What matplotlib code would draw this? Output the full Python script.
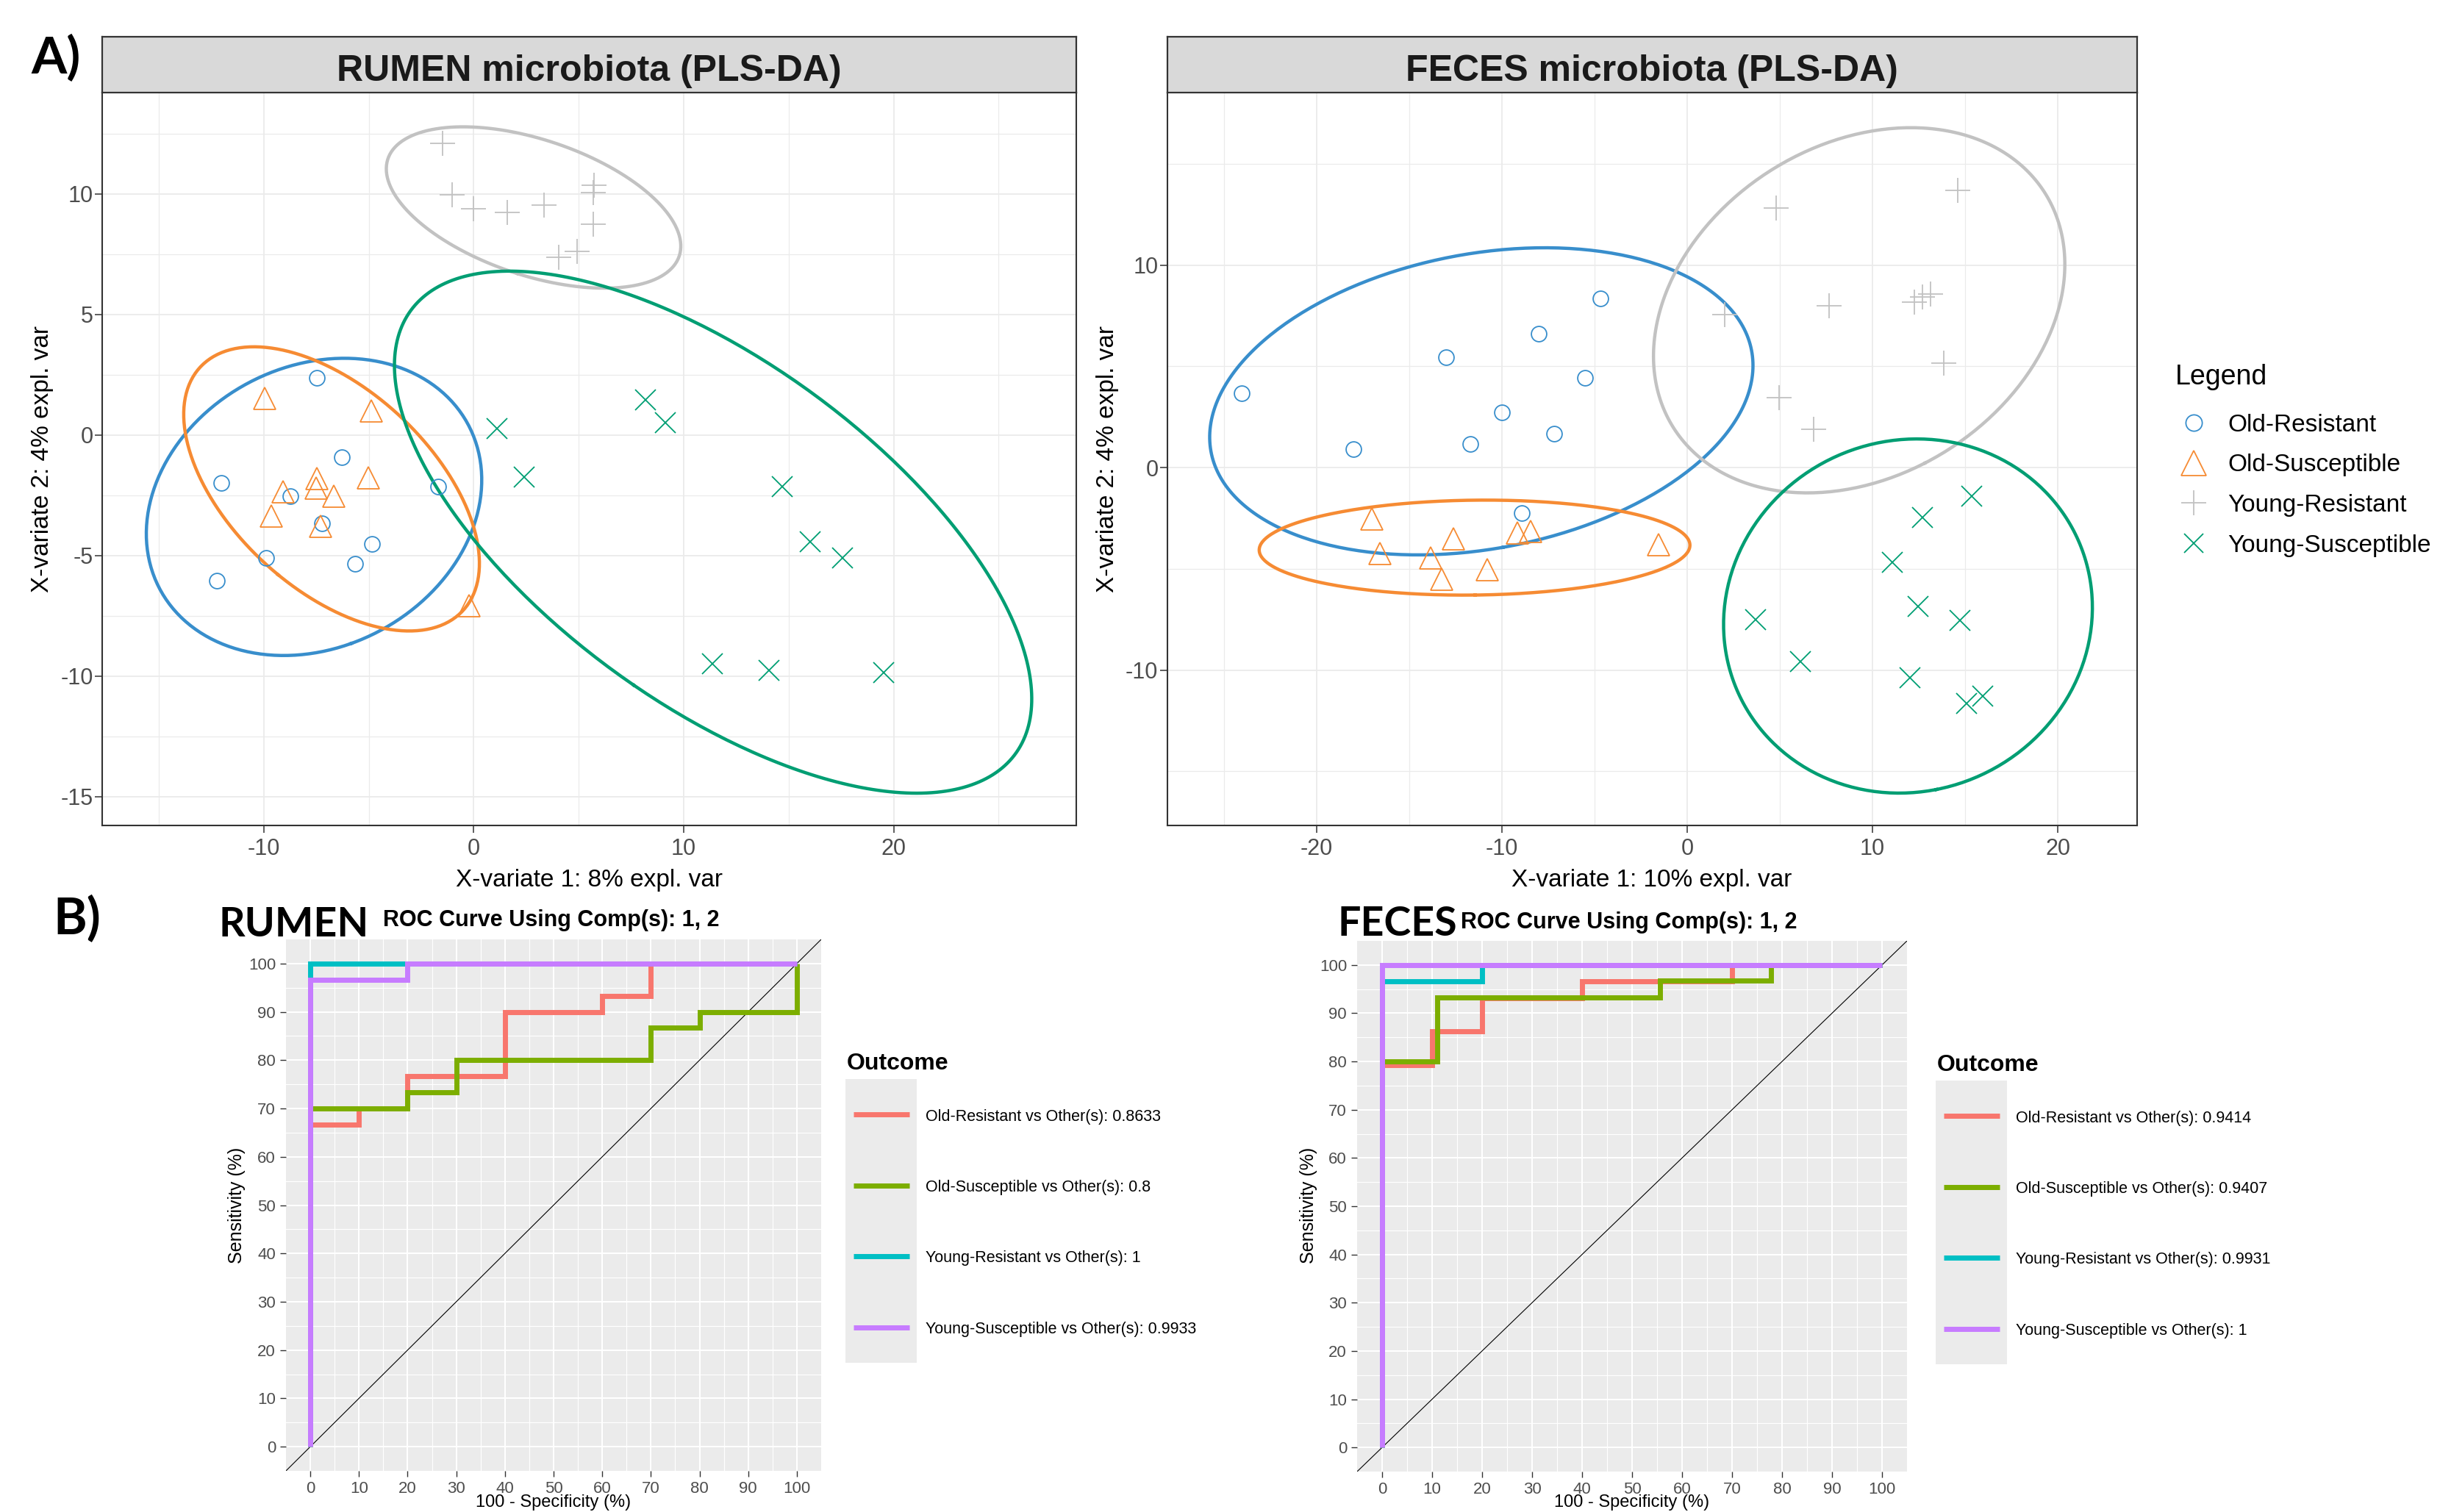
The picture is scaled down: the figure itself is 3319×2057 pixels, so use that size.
import numpy as np
import matplotlib
matplotlib.use('Agg')
import matplotlib.pyplot as plt
from matplotlib.patches import Rectangle

W, H = 3319, 2057
DPI = 100
plt.rcParams['font.family'] = ['Liberation Sans', 'DejaVu Sans']
plt.rcParams['axes.unicode_minus'] = False

groups = ['Old-Resistant', 'Old-Susceptible', 'Young-Resistant', 'Young-Susceptible']
group_colors = ['#388ECC', '#F68B33', '#C2C2C2', '#009E73']
group_markers = ['o', '^', '+', 'x']
marker_sizes = [15, 22, 24, 20]

# --- RUMEN PLS-DA scores (X-variate 1, X-variate 2) ---
rumen_or_x = [-7.49, -12.01, -6.30, -8.75, -1.68, -7.23, -4.85, -9.90, -5.64, -12.24]
rumen_or_y = [2.37, -1.98, -0.91, -2.53, -2.13, -3.68, -4.52, -5.09, -5.33, -6.05]
rumen_os_x = [-9.97, -4.88, -5.02, -7.46, -7.50, -9.08, -6.67, -9.64, -7.29, -0.23]
rumen_os_y = [1.53, 1.00, -1.77, -1.82, -2.20, -2.37, -2.53, -3.37, -3.78, -7.07]
rumen_yr_x = [-1.49, -1.02, 0.00, 1.58, 3.33, 5.74, 5.68, 5.68, 4.92, 4.06]
rumen_yr_y = [12.11, 9.96, 9.37, 9.22, 9.53, 10.37, 10.06, 8.75, 7.60, 7.38]
rumen_ys_x = [1.09, 8.18, 9.11, 2.41, 14.69, 16.01, 17.56, 11.35, 14.06, 19.54]
rumen_ys_y = [0.26, 1.46, 0.50, -1.74, -2.13, -4.44, -5.11, -9.49, -9.77, -9.87]

# --- FECES PLS-DA scores ---
feces_or_x = [-24.05, -18.04, -13.01, -11.71, -10.02, -8.02, -7.17, -5.52, -4.68, -8.95]
feces_or_y = [3.67, 0.91, 5.46, 1.17, 2.73, 6.60, 1.68, 4.44, 8.34, -2.25]
feces_os_x = [-17.02, -16.61, -13.85, -13.27, -12.61, -10.78, -9.18, -8.46, -1.56]
feces_os_y = [-2.53, -4.24, -4.47, -5.52, -3.53, -5.04, -3.24, -3.16, -3.81]
feces_yr_x = [4.81, 14.61, 2.00, 7.66, 12.25, 12.69, 13.14, 13.85, 4.94, 6.82]
feces_yr_y = [12.83, 13.68, 7.57, 7.99, 8.19, 8.42, 8.56, 5.15, 3.44, 1.88]
feces_ys_x = [15.37, 12.69, 11.05, 12.47, 14.70, 3.70, 6.10, 12.03, 15.06, 15.95]
feces_ys_y = [-1.39, -2.45, -4.67, -6.86, -7.54, -7.51, -9.56, -10.36, -11.64, -11.29]

# --- ROC curves: x = 100 - specificity, y = sensitivity (%) ---
roc_labels = ['Old-Resistant vs Other(s)', 'Old-Susceptible vs Other(s)',
              'Young-Resistant vs Other(s)', 'Young-Susceptible vs Other(s)']
roc_colors = ['#F8766D', '#7CAE00', '#00BFC4', '#C77CFF']
rumen_auc = ['0.8633', '0.8', '1', '0.9933']
feces_auc = ['0.9414', '0.9407', '0.9931', '1']

rumen_or_fpr = [0, 0, 10, 10, 20, 20, 40, 40, 60, 60, 70, 70, 100]
rumen_or_tpr = [0, 66.7, 66.7, 70, 70, 76.7, 76.7, 90, 90, 93.3, 93.3, 100, 100]
rumen_os_fpr = [0, 0, 20, 20, 30, 30, 70, 70, 80, 80, 100, 100]
rumen_os_tpr = [0, 70, 70, 73.3, 73.3, 80, 80, 86.7, 86.7, 90, 90, 100]
rumen_yr_fpr = [0, 0, 100]
rumen_yr_tpr = [0, 100, 100]
rumen_ys_fpr = [0, 0, 20, 20, 100]
rumen_ys_tpr = [0, 96.7, 96.7, 100, 100]

feces_or_fpr = [0, 0, 10, 10, 20, 20, 40, 40, 70, 70, 100]
feces_or_tpr = [0, 79.3, 79.3, 86.2, 86.2, 93.1, 93.1, 96.6, 96.6, 100, 100]
feces_os_fpr = [0, 0, 11.1, 11.1, 55.6, 55.6, 77.8, 77.8, 100]
feces_os_tpr = [0, 80, 80, 93.3, 93.3, 96.7, 96.7, 100, 100]
feces_yr_fpr = [0, 0, 20, 20, 100]
feces_yr_tpr = [0, 96.6, 96.6, 100, 100]
feces_ys_fpr = [0, 0, 100]
feces_ys_tpr = [0, 100, 100]


fig = plt.figure(figsize=(W / DPI, H / DPI), dpi=DPI)


def px_axes(x0, y0, x1, y1):
    return fig.add_axes([x0 / W, 1 - y1 / H, (x1 - x0) / W, (y1 - y0) / H])


def conf_ellipse(x, y, level=0.95, n=300):
    pts = np.column_stack([x, y])
    c = pts.mean(axis=0)
    vals, vecs = np.linalg.eigh(np.cov(pts.T))
    r = np.sqrt(-2 * np.log(1 - level))
    t = np.linspace(0, 2 * np.pi, n)
    e = vecs @ (np.sqrt(vals)[:, None] * np.vstack([np.cos(t), np.sin(t)])) * r
    return c[0] + e[0], c[1] + e[1]


def pls_panel(x0, x1, xs, ys, xlim, ylim, xmaj, xmin, ymaj, ymin):
    strip = px_axes(x0, 50, x1, 126)
    strip.set_facecolor('#D9D9D9')
    strip.set_xticks([])
    strip.set_yticks([])
    for s in strip.spines.values():
        s.set_color('#333333')
        s.set_linewidth(1.6)

    ax = px_axes(x0, 126, x1, 1123)
    for gx, gy, col, mk, ms in zip(xs, ys, group_colors, group_markers, marker_sizes):
        ax.plot(gx, gy, ls='none', marker=mk, ms=ms, mfc='none', mec=col, mew=1.3, zorder=3)
        ex, ey = conf_ellipse(gx, gy)
        ax.plot(ex, ey, color=col, lw=3.2, zorder=2)
    ax.set_xlim(*xlim)
    ax.set_ylim(*ylim)
    ax.set_xticks(xmaj)
    ax.set_xticks(xmin, minor=True)
    ax.set_yticks(ymaj)
    ax.set_yticks(ymin, minor=True)
    ax.grid(which='major', color='#EBEBEB', lw=1.3)
    ax.grid(which='minor', color='#EBEBEB', lw=0.9)
    ax.set_axisbelow(True)
    ax.tick_params(which='major', length=7, width=1.1, color='#333333',
                   labelsize=22, labelcolor='#4D4D4D')
    ax.tick_params(axis='x', pad=5)
    ax.tick_params(axis='y', pad=2)
    ax.tick_params(which='minor', length=0)
    for s in ax.spines.values():
        s.set_color('#333333')
        s.set_linewidth(1.5)
    return ax


pls_panel(139, 1464,
          [rumen_or_x, rumen_os_x, rumen_yr_x, rumen_ys_x],
          [rumen_or_y, rumen_os_y, rumen_yr_y, rumen_ys_y],
          (-17.7, 28.7), (-16.2, 14.2),
          [-10, 0, 10, 20], [-15, -5, 5, 15, 25],
          [-15, -10, -5, 0, 5, 10], [-12.5, -7.5, -2.5, 2.5, 7.5, 12.5])

pls_panel(1588, 2907,
          [feces_or_x, feces_os_x, feces_yr_x, feces_ys_x],
          [feces_or_y, feces_os_y, feces_yr_y, feces_ys_y],
          (-28.06, 24.28), (-17.67, 18.52),
          [-20, -10, 0, 10, 20], [-25, -15, -5, 5, 15],
          [-10, 0, 10], [-15, -5, 5, 15])


def roc_panel(x0, y0, x1, y1, fprs, tprs):
    ax = px_axes(x0, y0, x1, y1)
    ax.set_facecolor('#EBEBEB')
    ax.plot([-5, 105], [-5, 105], color='black', lw=0.8, zorder=2)
    for fx, ty, col in zip(fprs, tprs, roc_colors):
        ax.plot(fx, ty, color=col, lw=5, solid_capstyle='butt',
                solid_joinstyle='miter', zorder=3)
    ax.set_xlim(-5, 105)
    ax.set_ylim(-5, 105)
    ticks = np.arange(0, 101, 10)
    ax.set_xticks(ticks)
    ax.set_yticks(ticks)
    ax.set_xticks(ticks[:-1] + 5, minor=True)
    ax.set_yticks(ticks[:-1] + 5, minor=True)
    ax.grid(which='major', color='white', lw=1.5)
    ax.grid(which='minor', color='white', lw=0.8)
    ax.set_axisbelow(True)
    ax.tick_params(which='major', length=6, width=1.0, color='#333333',
                   labelsize=16, labelcolor='#4D4D4D', pad=4)
    ax.tick_params(which='minor', length=0)
    for s in ax.spines.values():
        s.set_visible(False)
    return ax


roc_panel(389, 1278, 1117, 2001,
          [rumen_or_fpr, rumen_os_fpr, rumen_yr_fpr, rumen_ys_fpr],
          [rumen_or_tpr, rumen_os_tpr, rumen_yr_tpr, rumen_ys_tpr])
roc_panel(1846, 1280, 2594, 2002,
          [feces_or_fpr, feces_os_fpr, feces_yr_fpr, feces_ys_fpr],
          [feces_or_tpr, feces_os_tpr, feces_yr_tpr, feces_ys_tpr])

# overlay in pixel coordinates for titles, labels and legends
ov = fig.add_axes([0, 0, 1, 1])
ov.set_xlim(0, W)
ov.set_ylim(H, 0)
ov.axis('off')
ov.patch.set_alpha(0)

big = dict(fontfamily=['Lato', 'DejaVu Sans'], fontweight='bold', va='baseline')
ov.text(42, 100, 'A)', fontsize=50, **big)
ov.text(72, 1271, 'B)', fontsize=50, **big)
ov.text(297, 1274, 'RUMEN', fontsize=40, **big)
ov.text(1820, 1273, 'FECES', fontsize=40, **big)

ov.text(801, 110, 'RUMEN microbiota (PLS-DA)', fontsize=36, fontweight='bold',
        ha='center', va='baseline', color='#1A1A1A')
ov.text(2247, 110, 'FECES microbiota (PLS-DA)', fontsize=36, fontweight='bold',
        ha='center', va='baseline', color='#1A1A1A')
ov.text(801, 1206, 'X-variate 1: 8% expl. var', fontsize=24, ha='center', va='baseline')
ov.text(2247, 1206, 'X-variate 1: 10% expl. var', fontsize=24, ha='center', va='baseline')
ov.text(58, 624, 'X-variate 2: 4% expl. var', fontsize=24, rotation=90,
        ha='center', va='center')
ov.text(1507, 624, 'X-variate 2: 4% expl. var', fontsize=24, rotation=90,
        ha='center', va='center')

# PLS-DA legend
ov.text(2959, 523, 'Legend', fontsize=27, va='baseline')
legend_ms = [16, 24, 25, 19]
for i, (g, col, mk, ms) in enumerate(zip(groups, group_colors, group_markers, legend_ms)):
    yb = 587 + i * 54.5
    ov.plot(2984, yb - 12, ls='none', marker=mk, ms=ms, mfc='none', mec=col, mew=1.3)
    ov.text(3030, yb, g, fontsize=24, va='baseline')

# ROC titles, axis labels and legends
for x_title, y_title, x_roc, x_mid, x_ylab, x_leg, y_leg, aucs in [
        (521, 1260, 297, 753, 322, 1150, 1455, rumen_auc),
        (1987, 1263, 1820, 2220, 1780, 2633, 1457, feces_auc)]:
    ov.text(x_title, y_title, 'ROC Curve Using Comp(s): 1, 2', fontsize=22,
            fontweight='bold', va='baseline')
    ov.text(x_mid, 2055, '100 - Specificity (%)', fontsize=17, ha='center', va='bottom')
    ov.text(x_ylab, 1640, 'Sensitivity (%)', fontsize=18, rotation=90,
            ha='center', va='center')
    ov.text(x_leg + 2, y_leg, 'Outcome', fontsize=23, fontweight='bold', va='baseline')
    ov.add_patch(Rectangle((x_leg, y_leg + 13), 97, 386, facecolor='#EBEBEB',
                           edgecolor='none'))
    for i, (lab, col, auc) in enumerate(zip(roc_labels, roc_colors, aucs)):
        yl = y_leg + 61 + i * 96.5
        ov.plot([x_leg + 11, x_leg + 87], [yl, yl], color=col, lw=5,
                solid_capstyle='butt')
        ov.text(x_leg + 109, yl + 3, f'{lab}: {auc}', fontsize=15.5, va='center')

fig.savefig('out.png', dpi=DPI)
